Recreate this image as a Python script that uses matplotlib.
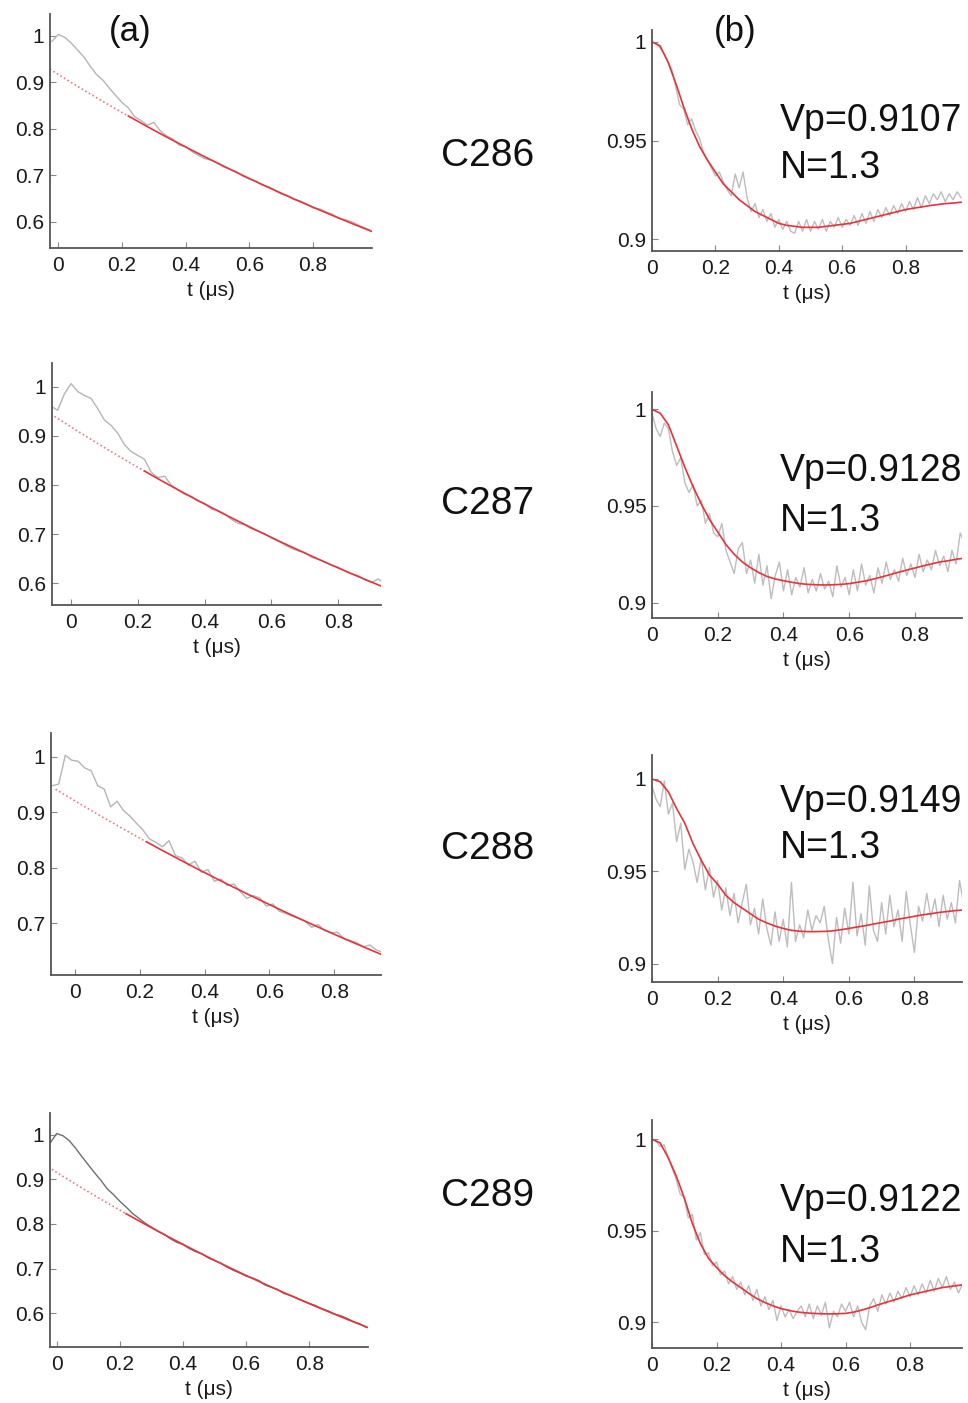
import numpy as np
import matplotlib
matplotlib.use("Agg")
import matplotlib.pyplot as plt

plt.rcParams['font.family'] = ['Liberation Sans', 'DejaVu Sans']

samples = ['C286', 'C287', 'C288', 'C289']
vp_values = [0.9107, 0.9128, 0.9149, 0.9122]
n_values = [1.3, 1.3, 1.3, 1.3]

# raw echo decay (panel a), sampled every 0.02 us starting at raw_t0
raw_t0 = [-0.02, -0.06, -0.07, -0.02]
raw_286 = [0.988, 1.003, 0.997, 0.985, 0.970, 0.955, 0.935, 0.917, 0.905, 0.888,
           0.872, 0.857, 0.845, 0.826, 0.818, 0.808, 0.814, 0.796, 0.785, 0.778,
           0.765, 0.762, 0.751, 0.743, 0.736, 0.733, 0.727, 0.718, 0.713, 0.708,
           0.698, 0.692, 0.688, 0.679, 0.676, 0.668, 0.660, 0.657, 0.648, 0.645,
           0.639, 0.630, 0.628, 0.622, 0.617, 0.608, 0.605, 0.601, 0.594, 0.588,
           0.582]
raw_287 = [0.960, 0.952, 0.985, 1.006, 0.990, 0.982, 0.976, 0.955, 0.932, 0.921,
           0.905, 0.882, 0.868, 0.860, 0.852, 0.826, 0.815, 0.818, 0.800, 0.790,
           0.781, 0.777, 0.767, 0.763, 0.751, 0.748, 0.741, 0.730, 0.722, 0.719,
           0.711, 0.706, 0.701, 0.692, 0.686, 0.678, 0.671, 0.666, 0.663, 0.653,
           0.649, 0.643, 0.637, 0.633, 0.625, 0.619, 0.616, 0.607, 0.602, 0.609,
           0.598]
raw_288 = [0.948, 0.951, 1.003, 0.994, 0.992, 0.980, 0.975, 0.948, 0.942, 0.910,
           0.920, 0.903, 0.893, 0.880, 0.868, 0.852, 0.846, 0.838, 0.849, 0.822,
           0.818, 0.805, 0.812, 0.792, 0.797, 0.776, 0.780, 0.768, 0.771, 0.757,
           0.745, 0.750, 0.746, 0.731, 0.735, 0.722, 0.718, 0.713, 0.709, 0.704,
           0.693, 0.698, 0.687, 0.683, 0.684, 0.672, 0.669, 0.665, 0.658, 0.661,
           0.652, 0.648]
raw_289 = [0.982, 1.003, 0.998, 0.987, 0.970, 0.951, 0.933, 0.915, 0.898, 0.879,
           0.866, 0.851, 0.838, 0.824, 0.813, 0.802, 0.793, 0.784, 0.777, 0.767,
           0.759, 0.754, 0.745, 0.738, 0.733, 0.724, 0.718, 0.712, 0.703, 0.696,
           0.690, 0.683, 0.679, 0.673, 0.663, 0.658, 0.653, 0.644, 0.640, 0.634,
           0.628, 0.622, 0.617, 0.610, 0.605, 0.598, 0.594, 0.588, 0.581, 0.576,
           0.568]

# background fits, every 0.04 us from -0.06 us; the fitted window starts at 0.22 us
bg_t0 = -0.06
bg_start = 0.22
bg_286 = [0.9430, 0.9256, 0.9085, 0.8917, 0.8753, 0.8591, 0.8432, 0.8277, 0.8124,
          0.7973, 0.7826, 0.7682, 0.7540, 0.7401, 0.7264, 0.7130, 0.6998, 0.6869,
          0.6742, 0.6618, 0.6495, 0.6375, 0.6258, 0.6142, 0.6029, 0.5917, 0.5808,
          0.5701]
bg_287 = [0.9441, 0.9266, 0.9094, 0.8926, 0.8760, 0.8598, 0.8438, 0.8282, 0.8128,
          0.7977, 0.7830, 0.7684, 0.7542, 0.7402, 0.7265, 0.7130, 0.6998, 0.6868,
          0.6741, 0.6616, 0.6493, 0.6372, 0.6254, 0.6138, 0.6024, 0.5913]
bg_288 = [0.9417, 0.9276, 0.9137, 0.8999, 0.8865, 0.8732, 0.8600, 0.8471, 0.8344,
          0.8219, 0.8096, 0.7974, 0.7855, 0.7737, 0.7621, 0.7506, 0.7394, 0.7283,
          0.7173, 0.7066, 0.6960, 0.6855, 0.6752, 0.6651, 0.6551, 0.6453, 0.6356]
bg_289 = [0.9427, 0.9246, 0.9069, 0.8894, 0.8723, 0.8556, 0.8392, 0.8230, 0.8072,
          0.7917, 0.7765, 0.7616, 0.7470, 0.7326, 0.7185, 0.7047, 0.6912, 0.6779,
          0.6649, 0.6521, 0.6396, 0.6273, 0.6152, 0.6034, 0.5918, 0.5804, 0.5693,
          0.5583]

# form factors after background division (panel b), every 0.0125 us from 0
ff_286 = [1.000, 0.999, 0.997, 0.994, 0.990, 0.986, 0.977, 0.968, 0.966, 0.958,
          0.961, 0.955, 0.951, 0.944, 0.940, 0.936, 0.932, 0.934, 0.929, 0.925,
          0.922, 0.933, 0.926, 0.934, 0.921, 0.914, 0.918, 0.911, 0.915, 0.909,
          0.913, 0.906, 0.910, 0.905, 0.909, 0.904, 0.903, 0.909, 0.904, 0.910,
          0.904, 0.909, 0.905, 0.910, 0.904, 0.909, 0.906, 0.911, 0.906, 0.910,
          0.907, 0.912, 0.907, 0.913, 0.908, 0.914, 0.909, 0.915, 0.911, 0.916,
          0.912, 0.917, 0.913, 0.918, 0.914, 0.919, 0.915, 0.921, 0.916, 0.922,
          0.918, 0.923, 0.920, 0.924, 0.919, 0.923, 0.920, 0.924, 0.921]
ff_287 = [0.998, 0.990, 0.986, 0.993, 0.990, 0.978, 0.971, 0.975, 0.962, 0.957,
          0.961, 0.950, 0.953, 0.941, 0.946, 0.936, 0.934, 0.941, 0.927, 0.921,
          0.915, 0.928, 0.931, 0.915, 0.922, 0.910, 0.925, 0.909, 0.919, 0.902,
          0.914, 0.921, 0.906, 0.917, 0.904, 0.913, 0.908, 0.918, 0.905, 0.912,
          0.906, 0.915, 0.907, 0.911, 0.903, 0.919, 0.908, 0.913, 0.904, 0.917,
          0.906, 0.920, 0.909, 0.914, 0.905, 0.918, 0.910, 0.921, 0.912, 0.917,
          0.911, 0.923, 0.914, 0.920, 0.913, 0.925, 0.916, 0.922, 0.917, 0.927,
          0.919, 0.924, 0.916, 0.927, 0.920, 0.936, 0.931]
ff_288 = [0.996, 0.989, 0.985, 0.999, 0.981, 0.987, 0.966, 0.976, 0.951, 0.962,
          0.955, 0.944, 0.957, 0.940, 0.952, 0.936, 0.945, 0.929, 0.941, 0.926,
          0.938, 0.922, 0.933, 0.943, 0.921, 0.930, 0.916, 0.935, 0.919, 0.910,
          0.928, 0.912, 0.924, 0.909, 0.944, 0.912, 0.921, 0.914, 0.929, 0.918,
          0.926, 0.922, 0.931, 0.913, 0.900, 0.925, 0.911, 0.930, 0.916, 0.944,
          0.915, 0.927, 0.910, 0.942, 0.918, 0.912, 0.933, 0.916, 0.937, 0.920,
          0.929, 0.912, 0.939, 0.921, 0.906, 0.931, 0.923, 0.938, 0.925, 0.935,
          0.920, 0.937, 0.924, 0.933, 0.922, 0.945, 0.932]
ff_289 = [1.000, 0.999, 0.996, 0.997, 0.990, 0.984, 0.978, 0.970, 0.968, 0.957,
          0.959, 0.945, 0.949, 0.937, 0.938, 0.931, 0.933, 0.926, 0.928, 0.921,
          0.925, 0.918, 0.922, 0.915, 0.920, 0.912, 0.918, 0.909, 0.914, 0.907,
          0.912, 0.901, 0.909, 0.903, 0.907, 0.902, 0.906, 0.909, 0.903, 0.910,
          0.902, 0.909, 0.904, 0.911, 0.897, 0.906, 0.903, 0.910, 0.906, 0.911,
          0.903, 0.909, 0.900, 0.896, 0.909, 0.913, 0.906, 0.915, 0.910, 0.916,
          0.911, 0.917, 0.913, 0.919, 0.914, 0.920, 0.915, 0.921, 0.916, 0.923,
          0.917, 0.924, 0.919, 0.925, 0.918, 0.922, 0.916, 0.921]

# form-factor fits, every 0.025 us from 0
fit_286 = [1.000, 0.998, 0.990, 0.979, 0.967, 0.956, 0.947, 0.940, 0.934, 0.928,
           0.924, 0.920, 0.917, 0.914, 0.912, 0.910, 0.908, 0.907, 0.9065, 0.906,
           0.906, 0.906, 0.9065, 0.907, 0.9075, 0.908, 0.909, 0.910, 0.911, 0.912,
           0.913, 0.914, 0.915, 0.9157, 0.9163, 0.917, 0.9175, 0.918, 0.9183, 0.9187]
fit_287 = [1.000, 0.998, 0.992, 0.981, 0.970, 0.960, 0.951, 0.943, 0.9365, 0.930,
           0.925, 0.921, 0.918, 0.9155, 0.9135, 0.9122, 0.9113, 0.9105, 0.9098,
           0.9094, 0.9092, 0.9091, 0.9092, 0.9094, 0.9098, 0.9105, 0.9112, 0.9122,
           0.9133, 0.9145, 0.9157, 0.9168, 0.9179, 0.919, 0.920, 0.921, 0.9216,
           0.9224, 0.923]
fit_288 = [1.000, 0.9985, 0.993, 0.984, 0.976, 0.965, 0.956, 0.948, 0.943, 0.937,
           0.933, 0.930, 0.927, 0.924, 0.922, 0.9203, 0.919, 0.918, 0.9175, 0.9173,
           0.9173, 0.9174, 0.9177, 0.9183, 0.919, 0.9198, 0.9205, 0.9214, 0.9222,
           0.923, 0.924, 0.9248, 0.9256, 0.9264, 0.927, 0.9277, 0.9282, 0.9287,
           0.929]
fit_289 = [1.000, 0.998, 0.990, 0.980, 0.968, 0.954, 0.943, 0.935, 0.930, 0.9255,
           0.922, 0.919, 0.9158, 0.913, 0.9108, 0.909, 0.9075, 0.9065, 0.9057,
           0.9052, 0.9049, 0.9047, 0.9046, 0.9047, 0.9049, 0.9056, 0.9067, 0.908,
           0.9095, 0.9109, 0.9122, 0.9136, 0.915, 0.916, 0.917, 0.918, 0.919,
           0.9196, 0.9202, 0.9207]

raw_sets = [raw_286, raw_287, raw_288, raw_289]
bg_sets = [bg_286, bg_287, bg_288, bg_289]
ff_sets = [ff_286, ff_287, ff_288, ff_289]
fit_sets = [fit_286, fit_287, fit_288, fit_289]
raw_colors = ['#b5b5b5', '#b5b5b5', '#b5b5b5', '#6e6e6e']

# axes boxes in pixels (left, top, right, bottom) and limits
W, H = 968, 1403
left_boxes = [(50, 14, 372, 248), (52, 363, 381, 605),
              (51, 733, 381, 975), (50, 1113, 368, 1347)]
right_boxes = [(652, 30, 962, 251), (652, 392, 962, 618),
               (652, 755, 962, 982), (652, 1120, 962, 1348)]
left_xlim = [(-0.026, 0.985), (-0.057, 0.928), (-0.074, 0.944), (-0.021, 0.986)]
left_ylim = [(0.544, 1.047), (0.556, 1.048), (0.607, 1.043), (0.524, 1.049)]
right_xlim = [(0, 0.978), (0, 0.943), (0, 0.945), (0, 0.961)]
right_ylim = [(0.894, 1.006), (0.892, 1.009), (0.890, 1.013), (0.886, 1.0105)]
label_y = [156, 504, 849, 1196]
vp_y = [131, 481, 812, 1211]
n_y = [178, 531, 858, 1262]

fig = plt.figure(figsize=(W / 100, H / 100), dpi=100)


def add_box(box):
    l, t, r, b = box
    return fig.add_axes([l / W, 1 - b / H, (r - l) / W, (b - t) / H])


def style(ax, yticks, ylabels, xlim, ylim):
    for side in ['top', 'right']:
        ax.spines[side].set_visible(False)
    for side in ['left', 'bottom']:
        ax.spines[side].set_color('#555555')
        ax.spines[side].set_linewidth(1.3)
    ax.set_xticks([0, 0.2, 0.4, 0.6, 0.8])
    ax.set_xticklabels(['0', '0.2', '0.4', '0.6', '0.8'])
    ax.set_yticks(yticks)
    ax.set_yticklabels(ylabels)
    # limits after the ticks so that out-of-range ticks are simply dropped
    ax.set_xlim(*xlim)
    ax.set_ylim(*ylim)
    ax.tick_params(direction='in', length=4, width=0.8, color='#888888',
                   labelsize=15, labelcolor='#1a1a1a')
    ax.tick_params(axis='x', pad=6)
    ax.tick_params(axis='y', pad=4)
    ax.set_xlabel('t (μs)', fontsize=15, labelpad=4, color='#1a1a1a')
    ax.patch.set_alpha(0)


for i in range(4):
    # panel (a): raw decay with background fit
    ax = add_box(left_boxes[i])
    raw = np.array(raw_sets[i])
    t_raw = raw_t0[i] + 0.02 * np.arange(len(raw))
    ax.plot(t_raw, raw, color=raw_colors[i], lw=1.0)
    bg = np.array(bg_sets[i])
    t_bg = bg_t0 + 0.04 * np.arange(len(bg))
    pre = t_bg <= bg_start + 1e-9
    post = t_bg >= bg_start - 1e-9
    ax.plot(t_bg[pre], bg[pre], color='#f07a80', lw=1.2, ls=(0, (1, 1.5)))
    ax.plot(t_bg[post], bg[post], color='#e8323c', lw=1.2)
    style(ax, [0.6, 0.7, 0.8, 0.9, 1.0], ['0.6', '0.7', '0.8', '0.9', '1'],
          left_xlim[i], left_ylim[i])

    # panel (b): form factor with its fit
    ax = add_box(right_boxes[i])
    ff = np.array(ff_sets[i])
    t_ff = 0.0125 * np.arange(len(ff))
    ax.plot(t_ff, ff, color='#bdbdbd', lw=1.0)
    fit = np.array(fit_sets[i])
    t_fit = 0.025 * np.arange(len(fit))
    ax.plot(t_fit, fit, color='#e8323c', lw=1.2)
    style(ax, [0.9, 0.95, 1.0], ['0.9', '0.95', '1'],
          right_xlim[i], right_ylim[i])

    fig.text(488 / W, 1 - label_y[i] / H, samples[i], fontsize=28,
             ha='center', va='center', color='#111111')
    fig.text(780 / W, 1 - vp_y[i] / H, 'Vp=%.4f' % vp_values[i], fontsize=27,
             ha='left', va='baseline', color='#111111')
    fig.text(780 / W, 1 - n_y[i] / H, 'N=%.1f' % n_values[i], fontsize=27,
             ha='left', va='baseline', color='#111111')

fig.text(130 / W, 1 - 32 / H, '(a)', fontsize=25, ha='center', va='center',
         color='#111111')
fig.text(735 / W, 1 - 32 / H, '(b)', fontsize=25, ha='center', va='center',
         color='#111111')

fig.savefig('out.png', dpi=100, facecolor='white')
